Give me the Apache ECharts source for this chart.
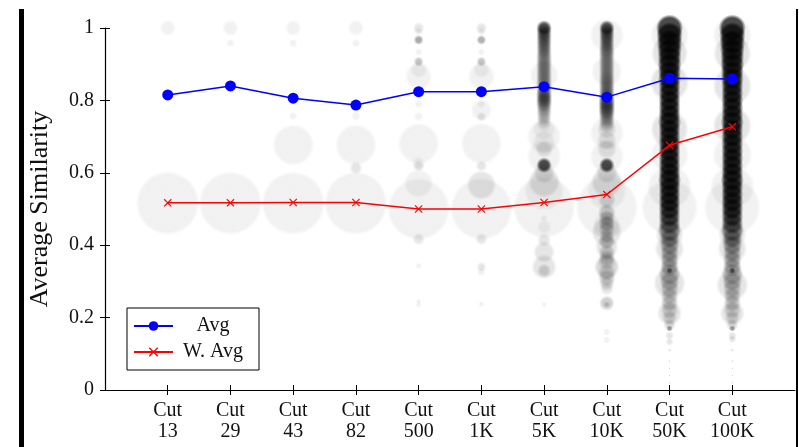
<!DOCTYPE html>
<html>
<head>
<meta charset="utf-8">
<script src="https://cdn.jsdelivr.net/npm/echarts@6/dist/echarts.min.js"></script>
<style>
  html, body { margin: 0; padding: 0; background: #fff; }
  #chart { width: 799px; height: 447px; }
</style>
</head>
<body>
<div id="chart"></div>
<script>
// Cut levels along the x axis
const cutLabels = ['13', '29', '43', '82', '500', '1K', '5K', '10K', '50K', '100K'];

// Plain and weighted average similarity per cut
const avgValues  = [0.815, 0.840, 0.806, 0.787, 0.824, 0.824, 0.838, 0.809, 0.861, 0.859];
const wAvgValues = [0.517, 0.517, 0.518, 0.518, 0.500, 0.500, 0.518, 0.540, 0.676, 0.727];

// Clusters per cut: [similarity, cluster weight, number of clusters at that similarity]
const clusters13 = [[1.0, 7, 1], [1.0, 0.05, 1], [0.566, 0.05, 1], [0.516, 100, 1]];
const clusters29 = [[1.0, 7, 1], [1.0, 0.05, 1], [0.958, 2, 1], [0.566, 0.05, 1], [0.516, 100, 1]];
const clusters43 = [[1.0, 7, 1], [1.0, 0.05, 1], [0.958, 2, 1], [0.757, 2, 1], [0.677, 43, 1], [0.566, 0.05, 1], [0.516, 100, 1]];
const clusters82 = [[1.0, 7, 1], [1.0, 0.05, 1], [0.958, 2, 1], [0.757, 2.5, 1], [0.677, 43, 1], [0.613, 4.5, 2], [0.566, 0.05, 1], [0.516, 100, 1]];
const clusters500 = [
  [1.0, 3.5, 2], [0.99, 2, 1], [0.967, 2.5, 8], [0.934, 1.5, 1], [0.907, 2.5, 5],
  [0.885, 8, 1], [0.866, 19, 1], [0.79, 2, 1], [0.755, 2.5, 1], [0.681, 43, 1],
  [0.627, 5, 1], [0.619, 3.5, 2], [0.571, 22, 1], [0.50, 97, 1], [0.417, 4, 2],
  [0.343, 1.2, 1], [0.245, 0.9, 1], [0.235, 0.9, 1]
];
const clusters1K = [
  [1.0, 3.5, 2], [0.99, 2, 1], [0.967, 2.5, 7], [0.934, 1.5, 1], [0.907, 2.5, 5],
  [0.885, 8, 1], [0.866, 19, 1], [0.79, 2, 1], [0.773, 12, 1], [0.755, 2.5, 2],
  [0.681, 43, 1], [0.619, 3.5, 2], [0.566, 22, 2], [0.50, 97, 1], [0.417, 4, 2],
  [0.34, 2.5, 2], [0.326, 2, 1], [0.237, 0.9, 1]
];
const clusters5K = [
  [1.0, 6, 26], [0.99, 6, 11], [0.98, 6, 10], [0.97, 6, 9], [0.96, 6, 8],
  [0.95, 6, 7], [0.94, 6, 7], [0.93, 6, 6], [0.92, 6.5, 5], [0.91, 6.5, 5],
  [0.90, 6.5, 5], [0.89, 6.5, 5], [0.88, 6.5, 5], [0.87, 22, 1], [0.87, 6.5, 5],
  [0.86, 6.5, 5], [0.85, 6.5, 5], [0.84, 6.5, 5], [0.83, 6.5, 6], [0.82, 6.5, 8],
  [0.81, 6.5, 10], [0.80, 6.5, 10], [0.79, 6.5, 7], [0.78, 6, 5], [0.77, 6, 4],
  [0.76, 6, 3], [0.75, 5.5, 3], [0.74, 5.5, 2], [0.73, 5.5, 1], [0.72, 14, 1],
  [0.70, 30, 1], [0.685, 14, 1], [0.665, 8, 2], [0.645, 30, 1], [0.621, 6, 30],
  [0.60, 12, 2], [0.575, 25, 2], [0.55, 40, 1], [0.505, 97, 1], [0.475, 1.5, 1],
  [0.45, 6, 1], [0.414, 5, 2], [0.381, 12, 2], [0.34, 16, 2], [0.33, 5, 3],
  [0.237, 0.9, 1]
];
const clusters10K = [
  [1.0, 6, 26], [0.99, 6, 11], [0.98, 30, 1], [0.98, 6, 10], [0.97, 6, 9],
  [0.96, 6, 8], [0.95, 6, 7], [0.94, 6.5, 7], [0.93, 6.5, 6], [0.92, 6.5, 5],
  [0.91, 6.5, 5], [0.90, 6.5, 5], [0.89, 6.5, 5], [0.88, 25, 1], [0.88, 6.5, 5],
  [0.87, 6.5, 5], [0.86, 6.5, 6], [0.85, 6.5, 6], [0.84, 6.5, 6], [0.83, 6.5, 6],
  [0.82, 6.5, 7], [0.81, 6.5, 8], [0.80, 7, 9], [0.79, 7, 10], [0.78, 7, 10],
  [0.77, 7, 9], [0.76, 6.5, 6], [0.75, 6.5, 5], [0.74, 6.5, 4], [0.73, 6.5, 3],
  [0.72, 10, 2], [0.71, 30, 1], [0.69, 10, 2], [0.665, 10, 2], [0.645, 30, 1],
  [0.621, 6, 30], [0.60, 12, 2], [0.575, 25, 2], [0.55, 40, 1], [0.525, 8, 3],
  [0.505, 97, 1], [0.49, 8, 4], [0.475, 7, 4], [0.46, 7, 5], [0.455, 20, 1],
  [0.445, 7, 4], [0.437, 24, 2], [0.425, 6, 4], [0.41, 7, 4], [0.395, 14, 2],
  [0.38, 7, 4], [0.365, 7, 3], [0.355, 8, 3], [0.34, 16, 3], [0.325, 8, 3],
  [0.31, 8, 3], [0.295, 6, 3], [0.28, 5, 2], [0.24, 6, 4], [0.236, 1, 3],
  [0.16, 1.5, 1], [0.138, 1.5, 1]
];
const clusters50K = [
  [1.0, 18, 30], [0.98, 38, 1], [0.98, 17, 30], [0.96, 16, 30], [0.94, 15, 30],
  [0.93, 34, 2], [0.92, 14, 30], [0.90, 14, 30], [0.88, 13, 30], [0.86, 13, 30],
  [0.85, 38, 2], [0.84, 12, 30], [0.82, 12, 30], [0.80, 12, 30], [0.78, 12, 30],
  [0.76, 12, 30], [0.74, 13, 30], [0.72, 36, 2], [0.72, 12, 30], [0.70, 12, 30],
  [0.68, 12, 30], [0.66, 12, 30], [0.65, 38, 1], [0.64, 12, 30], [0.62, 12, 30],
  [0.60, 12, 30], [0.58, 13, 30], [0.56, 50, 1], [0.56, 12, 30], [0.54, 12, 30],
  [0.52, 12, 30], [0.505, 80, 1], [0.50, 12, 26], [0.48, 12, 20], [0.46, 12, 14],
  [0.44, 13, 10], [0.43, 20, 2], [0.42, 10, 8], [0.40, 10, 7], [0.39, 22, 2],
  [0.38, 9, 6], [0.36, 9, 6], [0.34, 9, 6], [0.33, 1, 12], [0.32, 12, 5],
  [0.30, 10, 5], [0.295, 26, 2], [0.28, 9, 4], [0.26, 8, 4], [0.24, 8, 4],
  [0.22, 8, 3], [0.212, 16, 2], [0.20, 6, 3], [0.18, 4, 3], [0.17, 1, 8],
  [0.15, 2, 2], [0.133, 1.5, 2], [0.11, 0.3, 2], [0.08, 0.1, 3], [0.06, 0.1, 3],
  [0.04, 0.1, 3], [0.02, 0.1, 3]
];
const clusters100K = [
  [1.0, 18, 30], [0.98, 38, 1], [0.98, 17, 30], [0.96, 16, 30], [0.94, 15, 30],
  [0.93, 36, 2], [0.92, 14, 30], [0.90, 14, 30], [0.88, 13, 30], [0.86, 13, 30],
  [0.84, 38, 2], [0.84, 12, 30], [0.82, 12, 30], [0.80, 12, 30], [0.78, 12, 30],
  [0.76, 12, 30], [0.74, 13, 30], [0.73, 38, 2], [0.72, 12, 30], [0.70, 12, 30],
  [0.68, 12, 30], [0.66, 12, 30], [0.65, 40, 1], [0.64, 12, 30], [0.62, 12, 30],
  [0.60, 12, 30], [0.58, 13, 30], [0.56, 50, 1], [0.56, 12, 30], [0.54, 12, 30],
  [0.52, 12, 30], [0.505, 80, 1], [0.50, 12, 28], [0.48, 12, 22], [0.46, 12, 16],
  [0.44, 13, 11], [0.43, 20, 2], [0.42, 10, 9], [0.40, 10, 8], [0.39, 22, 2],
  [0.38, 9, 6], [0.36, 9, 6], [0.34, 9, 6], [0.33, 1, 14], [0.32, 12, 5],
  [0.30, 10, 5], [0.29, 26, 2], [0.28, 9, 4], [0.26, 8, 4], [0.24, 8, 4],
  [0.22, 8, 3], [0.212, 16, 2], [0.20, 6, 3], [0.18, 4, 3], [0.17, 1, 8],
  [0.15, 2, 2], [0.14, 1.5, 2], [0.11, 0.3, 2], [0.08, 0.1, 3], [0.06, 0.1, 3],
  [0.04, 0.1, 3], [0.02, 0.1, 3]
];
const clusterColumns = [clusters13, clusters29, clusters43, clusters82, clusters500,
  clusters1K, clusters5K, clusters10K, clusters50K, clusters100K];

// Axis categories: one empty slot on each side of the ten cuts
const categories = [''].concat(cutLabels.map(c => 'Cut\n' + c), ['']);

const clusterData = [];
clusterColumns.forEach((col, i) => {
  col.forEach(([sim, weight, count]) => clusterData.push([i + 1, sim, weight, count]));
});

const serif = '"Liberation Serif", "DejaVu Serif", serif';
const crossPath = 'path://M0,1L1,0L5,4L9,0L10,1L6,5L10,9L9,10L5,6L1,10L0,9L4,5Z';
const bubbleDiameter = (weight) => 6.4 * Math.sqrt(weight);

// Translucent disc with a softened rim; overlapping clusters darken together
function bubbleFill(params) {
  const d = params.data;
  const a = 1 - Math.pow(1 - 0.065, d[3]);
  const r = bubbleDiameter(d[2]) / 2;
  const fade = Math.max(0.45, 1 - 3.5 / Math.max(r, 0.5));
  const c = 'rgba(0,0,0,' + a.toFixed(4) + ')';
  return {
    type: 'radial', x: 0.5, y: 0.5, r: 0.5,
    colorStops: [
      { offset: 0, color: c },
      { offset: fade, color: c },
      { offset: 1, color: 'rgba(0,0,0,0)' }
    ]
  };
}

const chart = echarts.init(document.getElementById('chart'), null, { renderer: 'canvas' });

const baseX = {
  type: 'category',
  data: categories,
  boundaryGap: false,
  position: 'bottom',
  splitLine: { show: false }
};
const baseY = {
  type: 'value',
  min: 0,
  max: 1,
  interval: 0.2,
  position: 'left',
  splitLine: { show: false }
};
const hideEnds = (i) => i > 0 && i < categories.length - 1;

chart.setOption({
  animation: false,
  backgroundColor: '#fff',
  grid: { left: 105, right: 4, top: 28, bottom: 57, containLabel: false },
  graphic: [
    { type: 'rect', shape: { x: 19, y: 9, width: 5, height: 438 }, style: { fill: '#000' }, silent: true },
    { type: 'rect', shape: { x: 796, y: 9, width: 2, height: 438 }, style: { fill: '#000' }, silent: true }
  ],
  xAxis: [
    Object.assign({}, baseX, {
      axisLine: { lineStyle: { color: '#000', width: 1.2 } },
      axisTick: { show: true, inside: false, length: 5, interval: hideEnds, lineStyle: { color: '#000', width: 1 } },
      axisLabel: {
        interval: 0, margin: 10, color: '#111',
        fontFamily: serif, fontSize: 20, lineHeight: 21
      }
    }),
    Object.assign({}, baseX, {
      axisLine: { show: false },
      axisTick: { show: true, inside: true, length: 5, interval: hideEnds, lineStyle: { color: '#000', width: 1 } },
      axisLabel: { show: false }
    })
  ],
  yAxis: [
    Object.assign({}, baseY, {
      name: 'Average Similarity',
      nameLocation: 'middle',
      nameGap: 52,
      nameTextStyle: { fontFamily: serif, fontSize: 26, color: '#111' },
      axisLine: { show: true, lineStyle: { color: '#000', width: 1.2 } },
      axisTick: { show: true, inside: false, length: 5, lineStyle: { color: '#000', width: 1 } },
      axisLabel: { margin: 11, color: '#111', fontFamily: serif, fontSize: 20 }
    }),
    Object.assign({}, baseY, {
      axisLine: { show: false },
      axisTick: { show: true, inside: true, length: 5, lineStyle: { color: '#000', width: 1 } },
      axisLabel: { show: false }
    })
  ],
  legend: {
    data: ['Avg', 'W. Avg'],
    orient: 'vertical',
    left: 127,
    top: 308,
    padding: [8, 11, 8, 6],
    itemGap: 6,
    itemWidth: 39,
    itemHeight: 12,
    backgroundColor: '#fff',
    borderColor: '#000',
    borderWidth: 1,
    borderRadius: 0,
    formatter: '{t|{name}}',
    textStyle: {
      fontFamily: serif, fontSize: 20, color: '#111',
      rich: { t: { width: 70, align: 'center', fontFamily: serif, fontSize: 20, lineHeight: 24 } }
    }
  },
  series: [
    {
      name: 'clusters',
      type: 'scatter',
      xAxisIndex: 0,
      yAxisIndex: 0,
      data: clusterData,
      symbol: 'circle',
      symbolSize: (v) => bubbleDiameter(v[2]),
      itemStyle: { color: bubbleFill },
      silent: true,
      z: 1
    },
    {
      name: 'Avg',
      type: 'line',
      data: avgValues.map((v, i) => [i + 1, v]),
      symbol: 'circle',
      symbolSize: 11,
      lineStyle: { color: '#0000ff', width: 1.5 },
      itemStyle: { color: '#0000ff' },
      z: 5
    },
    {
      name: 'W. Avg',
      type: 'line',
      data: wAvgValues.map((v, i) => [i + 1, v]),
      symbol: crossPath,
      symbolSize: 8,
      lineStyle: { color: '#ff0000', width: 1.5 },
      itemStyle: { color: '#ff0000' },
      z: 5
    }
  ]
});
</script>
</body>
</html>
